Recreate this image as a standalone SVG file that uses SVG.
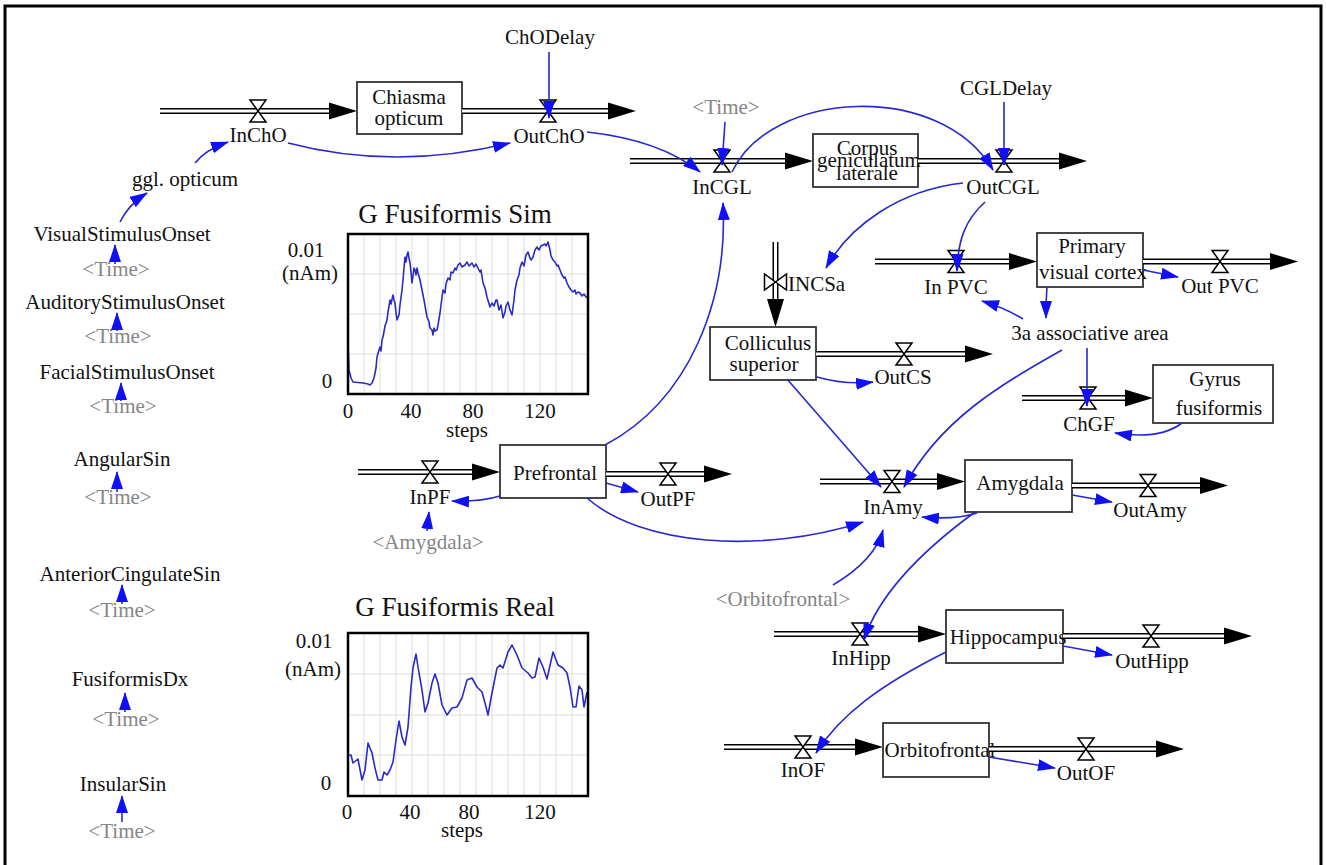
<svg xmlns="http://www.w3.org/2000/svg" width="1326" height="865" viewBox="0 0 1326 865" font-family="'Liberation Serif', 'Times New Roman', serif">
<style>
.t{font-family:"Liberation Serif","Times New Roman",serif;font-size:21px;fill:#111;text-anchor:middle}
.g{fill:#858585}
.ti{font-size:27px}
.box{fill:#fff;stroke:#333;stroke-width:1.8}
.po{stroke:#000;stroke-width:6;fill:none}
.pi{stroke:#fff;stroke-width:3;fill:none}
.c{stroke:#2828d0;stroke-width:1.6;fill:none;marker-end:url(#ba)}
.frame{fill:none;stroke:#000;stroke-width:2.5}
.grid{stroke:#dcdcdc;stroke-width:1;fill:none}
.trace{stroke:#2a2ac8;stroke-width:1.6;fill:none;stroke-linejoin:round}
</style>
<defs>
<marker id="ba" viewBox="0 0 18 12" refX="17" refY="6" markerWidth="18" markerHeight="12" markerUnits="userSpaceOnUse" orient="auto"><path d="M0,0 L18,6 L0,12 Z" fill="#1010f5"/></marker>
<path id="valve" d="M-8,-11 H8 L-8,11 H8 Z" fill="#fff" stroke="#000" stroke-width="1.5"/>
<path id="pa" d="M0,0 L-28,-8.5 L-28,8.5 Z" fill="#000"/>
</defs>
<rect x="5" y="6" width="1316" height="870" fill="#fff" stroke="#000" stroke-width="3"/>

<g id="chiasma">
<path class="po" d="M160,111 H332"/><path class="pi" d="M160,111 H332"/>
<use href="#pa" x="357" y="111"/><use href="#valve" x="258" y="111"/>
<text class="t" x="258" y="142">InChO</text>
<rect class="box" x="357" y="82" width="105" height="52"/>
<text class="t" x="409" y="104">Chiasma</text>
<text class="t" x="409" y="125">opticum</text>
<path class="po" d="M462,111 H611"/><path class="pi" d="M462,111 H611"/>
<use href="#pa" x="636" y="111"/><use href="#valve" x="548" y="111"/>
<text class="t" x="549" y="143">OutChO</text>
<text class="t" x="550" y="44">ChODelay</text>
</g>

<g id="ggl"><text class="t" x="185" y="186">ggl. opticum</text></g>

<g id="cgl">
<path class="po" d="M630,161 H788"/><path class="pi" d="M630,161 H788"/>
<use href="#pa" x="813" y="161"/><use href="#valve" x="722" y="161"/>
<text class="t g" x="726" y="114">&lt;Time&gt;</text>
<text class="t" x="722" y="194">InCGL</text>
<rect class="box" x="813" y="134" width="105" height="53"/>
<text class="t" x="867" y="155">Corpus</text>
<text class="t" x="869" y="167">geniculatum</text>
<text class="t" x="867" y="180">laterale</text>
<path class="po" d="M918,161 H1062"/><path class="pi" d="M918,161 H1062"/>
<use href="#pa" x="1087" y="161"/><use href="#valve" x="1004" y="161"/>
<text class="t" x="1003" y="194">OutCGL</text>
<text class="t" x="1006" y="95">CGLDelay</text>
</g>

<g id="pvc">
<path class="po" d="M875,261.5 H1012"/><path class="pi" d="M875,261.5 H1012"/>
<use href="#pa" x="1037" y="261.5"/><use href="#valve" x="956" y="261.5"/>
<text class="t" x="956" y="294">In PVC</text>
<rect class="box" x="1037" y="233" width="106" height="54"/>
<text class="t" x="1092" y="253">Primary</text>
<text class="t" x="1093" y="279">visual cortex</text>
<path class="po" d="M1143,261.5 H1273"/><path class="pi" d="M1143,261.5 H1273"/>
<use href="#pa" x="1298" y="261.5"/><use href="#valve" x="1220" y="261.5"/>
<text class="t" x="1220" y="293">Out PVC</text>
</g>

<g id="assoc"><text class="t" x="1090" y="340">3a associative area</text></g>

<g id="colliculus">
<path class="po" d="M775.5,242 V302"/><path class="pi" d="M775.5,242 V302"/>
<use href="#pa" transform="translate(775.5,327) rotate(90)"/>
<use href="#valve" transform="translate(775.5,282) rotate(90)"/>
<text class="t" x="788" y="291" style="text-anchor:start">INCSa</text>
<rect class="box" x="710" y="327" width="106" height="53"/>
<text class="t" x="768" y="350">Colliculus</text>
<text class="t" x="764" y="371">superior</text>
<path class="po" d="M816,354 H968"/><path class="pi" d="M816,354 H968"/>
<use href="#pa" x="993" y="354"/><use href="#valve" x="904" y="354"/>
<text class="t" x="903" y="384">OutCS</text>
</g>

<g id="gyrus">
<path class="po" d="M1022,398 H1128"/><path class="pi" d="M1022,398 H1128"/>
<use href="#pa" x="1153" y="398"/><use href="#valve" x="1088" y="398"/>
<text class="t" x="1089" y="431">ChGF</text>
<rect class="box" x="1153" y="365" width="120" height="58"/>
<text class="t" x="1215" y="386">Gyrus</text>
<text class="t" x="1219" y="415">fusiformis</text>
</g>

<g id="prefrontal">
<path class="po" d="M358,472 H475"/><path class="pi" d="M358,472 H475"/>
<use href="#pa" x="500" y="472"/><use href="#valve" x="430" y="472"/>
<text class="t" x="430" y="504">InPF</text>
<text class="t g" x="428" y="549">&lt;Amygdala&gt;</text>
<rect class="box" x="500" y="445" width="106" height="53"/>
<text class="t" x="555" y="480">Prefrontal</text>
<path class="po" d="M606,474 H707"/><path class="pi" d="M606,474 H707"/>
<use href="#pa" x="732" y="474"/><use href="#valve" x="668" y="474"/>
<text class="t" x="668" y="506">OutPF</text>
</g>

<g id="amygdala">
<path class="po" d="M820,481.5 H940"/><path class="pi" d="M820,481.5 H940"/>
<use href="#pa" x="965" y="481.5"/><use href="#valve" x="892" y="481.5"/>
<text class="t" x="893" y="514">InAmy</text>
<rect class="box" x="965" y="460" width="107" height="52"/>
<text class="t" x="1020" y="490">Amygdala</text>
<path class="po" d="M1072,485.5 H1203"/><path class="pi" d="M1072,485.5 H1203"/>
<use href="#pa" x="1228" y="485.5"/><use href="#valve" x="1148" y="485.5"/>
<text class="t" x="1150" y="517">OutAmy</text>
<text class="t g" x="783" y="606">&lt;Orbitofrontal&gt;</text>
</g>

<g id="hippocampus">
<path class="po" d="M774,634 H921"/><path class="pi" d="M774,634 H921"/>
<use href="#pa" x="946" y="634"/><use href="#valve" x="860" y="634"/>
<text class="t" x="861" y="665">InHipp</text>
<rect class="box" x="946" y="610" width="117" height="53"/>
<text class="t" x="1008" y="644">Hippocampus</text>
<path class="po" d="M1063,636 H1227"/><path class="pi" d="M1063,636 H1227"/>
<use href="#pa" x="1252" y="636"/><use href="#valve" x="1151" y="636"/>
<text class="t" x="1152" y="668">OutHipp</text>
</g>

<g id="orbitofrontal">
<path class="po" d="M724,747 H858"/><path class="pi" d="M724,747 H858"/>
<use href="#pa" x="883" y="747"/><use href="#valve" x="803" y="747"/>
<text class="t" x="803" y="777">InOF</text>
<rect class="box" x="883" y="723" width="106" height="54"/>
<text class="t" x="940" y="757">Orbitofrontal</text>
<path class="po" d="M989,749 H1159"/><path class="pi" d="M989,749 H1159"/>
<use href="#pa" x="1184" y="749"/><use href="#valve" x="1086" y="749"/>
<text class="t" x="1086" y="780">OutOF</text>
</g>

<g id="inputs">
<text class="t" x="122" y="241">VisualStimulusOnset</text>
<text class="t g" x="116" y="276">&lt;Time&gt;</text>
<text class="t" x="125" y="309">AuditoryStimulusOnset</text>
<text class="t g" x="118" y="343">&lt;Time&gt;</text>
<text class="t" x="127" y="379">FacialStimulusOnset</text>
<text class="t g" x="123" y="413">&lt;Time&gt;</text>
<text class="t" x="122" y="466">AngularSin</text>
<text class="t g" x="118" y="504">&lt;Time&gt;</text>
<text class="t" x="130" y="581">AnteriorCingulateSin</text>
<text class="t g" x="122" y="617">&lt;Time&gt;</text>
<text class="t" x="130" y="686">FusiformisDx</text>
<text class="t g" x="126" y="726">&lt;Time&gt;</text>
<text class="t" x="123" y="791">InsularSin</text>
<text class="t g" x="122" y="838">&lt;Time&gt;</text>
</g>

<g id="chart-sim">
<text class="t ti" x="455" y="223">G Fusiformis Sim</text>
<rect x="348" y="234" width="240" height="160" fill="#fff"/>
<path class="grid" d="M364,234V394M380,234V394M396,234V394M412,234V394M428,234V394M444,234V394M460,234V394M476,234V394M492,234V394M508,234V394M524,234V394M540,234V394M556,234V394M572,234V394M348,274H588M348,314H588M348,354H588"/>
<polyline class="trace" points="348,342 349,370 351,378 353,382 358,382.5 363,383 368,384 370,385 372,383 374,378 376,368 377,357 379,350 380,347 381,351 382,340 383,337 385,326 387,320 388,312 390,300 391,304 393,295 394,300 395,303 396,313 397,320 398,317 399,315 400,305 402,290 403,280 404,268 405,257 406,262 407,255 408,252 409,258 410,263 411,272 412,283 413,276 414,268 415,270 416,275 417,268 418,273 420,280 422,290 424,300 427,317 429,322 430,328 432,330 433,335 434,328 435,331 437,330 438,325 440,313 441,305 443,290 445,293 446,284 448,278 450,280 451,272 453,273 455,268 456,270 458,265 460,263 462,267 465,265 467,262 469,266 472,263 474,267 476,264 478,268 480,272 481,270 483,283 485,288 487,297 490,307 492,303 494,306 496,300 497,300 499,310 501,305 503,318 505,312 506,306 508,302 510,310 512,315 514,300 515,290 517,280 519,275 520,268 522,262 524,266 526,255 528,252 530,258 531,260 533,257 535,250 537,247 539,250 541,246 543,245 545,244 546,246 548,242 550,250 551,256 553,260 555,262 557,266 558,265 560,270 562,275 564,278 565,277 567,283 569,287 571,290 573,292 575,290 576,294 578,292 580,293 582,296 584,294 586,297 588,298"/>
<rect class="frame" x="348" y="234" width="240" height="160"/>
<text class="t" x="306" y="257">0.01</text>
<text class="t" x="310" y="280">(nAm)</text>
<text class="t" x="327" y="388">0</text>
<text class="t" x="348" y="418">0</text>
<text class="t" x="411" y="418">40</text>
<text class="t" x="473" y="418">80</text>
<text class="t" x="540" y="418">120</text>
<text class="t" x="467" y="437">steps</text>
</g>

<g id="chart-real">
<text class="t ti" x="455" y="616">G Fusiformis Real</text>
<rect x="348" y="633" width="240" height="163" fill="#fff"/>
<path class="grid" d="M364,633V796M380,633V796M396,633V796M412,633V796M428,633V796M444,633V796M460,633V796M476,633V796M492,633V796M508,633V796M524,633V796M540,633V796M556,633V796M572,633V796M348,674H588M348,715H588M348,755H588"/>
<polyline class="trace" points="348,755 351,755 353,763 358,759 362,780 365,770 368,743 372,753 375,768 378,780 382,780 384,772 387,775 390,770 393,762 396,740 399,721 402,737 405,745 408,727 411,687 413,668 416,654 418,667 422,690 425,712 428,703 432,683 435,674 438,683 442,705 447,715 452,708 457,707 462,698 467,680 472,678 477,687 482,692 485,703 488,715 492,693 497,668 500,665 503,668 508,652 512,645 517,655 522,668 528,673 532,678 535,677 539,658 543,667 547,679 553,652 558,665 563,668 567,673 570,687 573,707 576,707 579,686 582,690 584,707 587,692"/>
<rect class="frame" x="348" y="633" width="240" height="163"/>
<text class="t" x="314" y="648">0.01</text>
<text class="t" x="313" y="676">(nAm)</text>
<text class="t" x="326" y="790">0</text>
<text class="t" x="347" y="819">0</text>
<text class="t" x="410" y="819">40</text>
<text class="t" x="469" y="819">80</text>
<text class="t" x="540" y="819">120</text>
<text class="t" x="462" y="837">steps</text>
</g>

<g id="connectors">
<path class="c" d="M120,222 Q128,205 147,193"/>
<path class="c" d="M195,163 Q205,150 228,142"/>
<path class="c" d="M288,143 Q395,171 510,143"/>
<path class="c" d="M549,52 L549,118"/>
<path class="c" d="M587,132 Q660,140 700,172"/>
<path class="c" d="M725,122 L722,165"/>
<path class="c" d="M732,172 C770,90 940,80 993,170"/>
<path class="c" d="M1004,102 L1004,165"/>
<path class="c" d="M963,183 C900,190 850,225 826,268"/>
<path class="c" d="M985,202 C965,220 958,240 957,271"/>
<path class="c" d="M605,445 C690,400 728,300 723,203"/>
<path class="c" d="M817,377 Q845,385 873,382"/>
<path class="c" d="M1143,270 L1178,277"/>
<path class="c" d="M1047,287 Q1046,300 1046,318"/>
<path class="c" d="M1023,319 Q1005,308 982,301"/>
<path class="c" d="M1087,348 L1087,406"/>
<path class="c" d="M1182,423 Q1160,440 1115,433"/>
<path class="c" d="M1062,350 C1000,385 940,420 904,487"/>
<path class="c" d="M787,379 L881,487"/>
<path class="c" d="M500,496 Q480,502 452,501"/>
<path class="c" d="M427,531 L429,512"/>
<path class="c" d="M606,483 L638,492"/>
<path class="c" d="M587,498 C640,545 760,555 863,522"/>
<path class="c" d="M1072,495 L1112,502"/>
<path class="c" d="M977,513 Q955,520 922,517"/>
<path class="c" d="M833,585 Q875,560 883,530"/>
<path class="c" d="M975,512 C930,545 880,590 864,640"/>
<path class="c" d="M1063,646 L1112,655"/>
<path class="c" d="M946,652 C880,685 840,715 816,753"/>
<path class="c" d="M989,757 L1055,768"/>
<path class="c" d="M115,264 L115,245"/>
<path class="c" d="M117,331 L117,313"/>
<path class="c" d="M121,401 L121,383"/>
<path class="c" d="M117,492 L117,472"/>
<path class="c" d="M122,604 L122,585"/>
<path class="c" d="M125,712 L125,693"/>
<path class="c" d="M122,822 L122,796"/>
</g>
</svg>
